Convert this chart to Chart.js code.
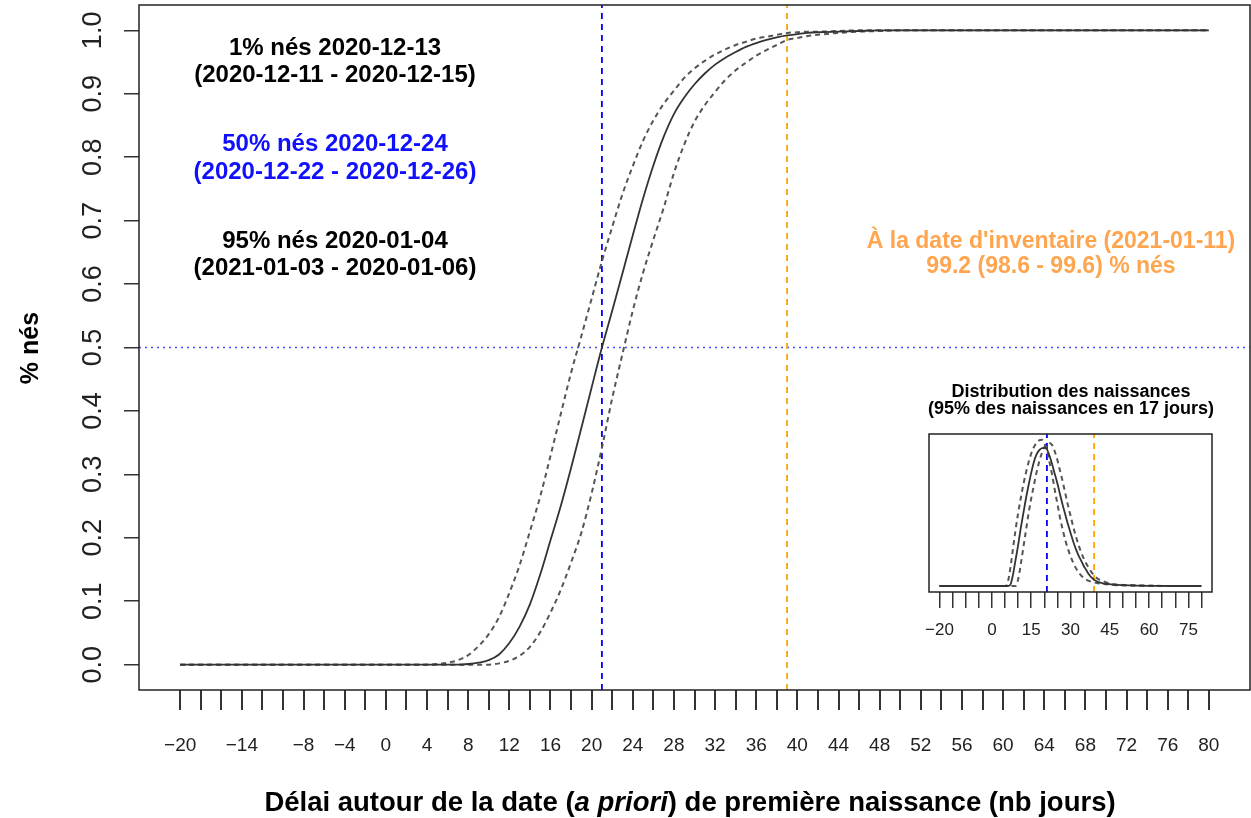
<!DOCTYPE html>
<html>
<head>
<meta charset="utf-8">
<script src="https://cdn.jsdelivr.net/npm/chart.js@4.4.1/dist/chart.umd.min.js"></script>
<style>
  body { margin: 0; background: #fff; }
  #main { position: absolute; left: 0; top: 0; }
  #inset { position: absolute; left: 900px; top: 370px; }
</style>
</head>
<body>
<canvas id="main" width="1251" height="818"></canvas>
<canvas id="inset" width="340" height="280"></canvas>
<script>
// days around the a priori first birth date
const dayGrid = [-20, -10, 0, 4, 5, 6, 7, 8, 9, 10, 11, 12, 13, 14, 15, 16, 17, 18, 19, 20,
  21, 22, 23, 24, 25, 26, 27, 28, 29, 30, 31, 32, 33, 34, 35, 36, 37, 38, 39, 40,
  41, 42, 44, 46, 48, 50, 55, 60, 70, 80];

// cumulative share born (main plot)
const cdfMid = [0, 0, 0, 0, 0, 0, 0, 0.001, 0.003, 0.007, 0.016, 0.034, 0.06, 0.095, 0.142, 0.196, 0.25, 0.31, 0.373, 0.437,
  0.5, 0.558, 0.617, 0.677, 0.735, 0.787, 0.832, 0.868, 0.894, 0.915, 0.932, 0.946, 0.957, 0.966, 0.974, 0.98, 0.985, 0.989, 0.992, 0.994,
  0.996, 0.997, 0.998, 0.999, 1, 1, 1, 1, 1, 1];
const cdfUpper = [0, 0, 0, 0, 0.001, 0.003, 0.007, 0.015, 0.029, 0.048, 0.075, 0.113, 0.157, 0.21, 0.265, 0.329, 0.395, 0.46, 0.518, 0.577,
  0.636, 0.69, 0.742, 0.786, 0.826, 0.858, 0.884, 0.905, 0.925, 0.94, 0.952, 0.962, 0.97, 0.977, 0.982, 0.987, 0.99, 0.993, 0.996, 0.997,
  0.998, 0.998, 0.999, 1, 1, 1, 1, 1, 1, 1];
const cdfLower = [0, 0, 0, 0, 0, 0, 0, 0, 0, 0, 0.002, 0.006, 0.014, 0.028, 0.051, 0.082, 0.118, 0.161, 0.208, 0.27,
  0.342, 0.42, 0.49, 0.558, 0.618, 0.67, 0.72, 0.775, 0.82, 0.856, 0.882, 0.903, 0.922, 0.937, 0.949, 0.96, 0.969, 0.977, 0.985, 0.988,
  0.991, 0.993, 0.996, 0.998, 0.999, 1, 1, 1, 1, 1];

// birth density, % per day (inset)
const densMid = [0, 0, 0, 0, 0, 0, 0.05, 0.5, 1.2, 1.9, 2.7, 3.4, 4.1, 4.72, 5.3, 5.8, 6.15, 6.35, 6.45, 6.47,
  6.4, 6.1, 5.7, 5.25, 4.8, 4.3, 3.8, 3.35, 2.9, 2.5, 2.1, 1.75, 1.45, 1.2, 0.95, 0.75, 0.55, 0.4, 0.3, 0.22,
  0.17, 0.14, 0.1, 0.07, 0.05, 0.04, 0.02, 0.01, 0, 0];
const densUpper = [0, 0, 0, 0, 0, 0.15, 0.8, 1.7, 2.6, 3.4, 4.1, 4.75, 5.3, 5.8, 6.2, 6.5, 6.7, 6.82, 6.85, 6.7,
  6.35, 5.8, 5.2, 4.5, 3.85, 3.2, 2.65, 2.15, 1.75, 1.4, 1.1, 0.85, 0.65, 0.5, 0.38, 0.3, 0.24, 0.2, 0.17, 0.14,
  0.12, 0.1, 0.08, 0.06, 0.04, 0.03, 0.02, 0.01, 0, 0];
const densLower = [0, 0, 0, 0, 0, 0, 0, 0, 0, 0.3, 1.0, 1.8, 2.6, 3.4, 4.1, 4.7, 5.3, 5.8, 6.2, 6.5,
  6.65, 6.7, 6.6, 6.3, 5.9, 5.4, 4.9, 4.35, 3.8, 3.3, 2.8, 2.35, 1.95, 1.6, 1.3, 1.05, 0.85, 0.65, 0.5, 0.38,
  0.3, 0.25, 0.16, 0.1, 0.07, 0.05, 0.03, 0.015, 0, 0];

const day50 = 21;        // 50% born
const inventoryDay = 39; // inventory date
const halfLevel = 0.5;

const xTicks = [];
for (let v = -20; v <= 80; v += 2) xTicks.push(v);
const xLabels = [-20, -14, -8, -4, 0, 4, 8, 12, 16, 20, 24, 28, 32, 36, 40, 44, 48, 52, 56, 60, 64, 68, 72, 76, 80];
const yTicks = [0, 0.1, 0.2, 0.3, 0.4, 0.5, 0.6, 0.7, 0.8, 0.9, 1.0];
const insetTicks = [];
for (let v = -20; v <= 80; v += 5) insetTicks.push(v);
const insetLabels = [-20, 0, 15, 30, 45, 60, 75];

const FONT = "'Liberation Sans', Arial, sans-serif";
const BLUE = "#0000ff";
const ORANGE = "#ffa500";
const fmt = v => (v < 0 ? "\u2212" + Math.abs(v) : String(v));
const pts = (xs, ys) => xs.map((x, i) => ({ x: x, y: ys[i] }));

const curve = (ys, dashed) => ({
  data: pts(dayGrid, ys),
  borderColor: dashed ? "#555" : "#333",
  borderWidth: dashed ? 2 : 1.8,
  borderDash: dashed ? [5, 4] : [],
  pointRadius: 0,
  cubicInterpolationMode: "monotone",
  fill: false
});
const vline = (x, y0, y1, color) => ({
  data: [{ x: x, y: y0 }, { x: x, y: y1 }],
  borderColor: color, borderWidth: 1.8, borderDash: [6, 5], pointRadius: 0, fill: false
});
// keep the plot area exactly where we put it
const noPad = s => { s.paddingTop = 0; s.paddingBottom = 0; s.paddingLeft = 0; s.paddingRight = 0; };

// frame around the plot area
const boxPlugin = {
  id: "box",
  afterDraw(chart) {
    const a = chart.chartArea, c = chart.ctx;
    c.save();
    c.strokeStyle = "#222";
    c.lineWidth = 1.5;
    c.strokeRect(a.left, a.top, a.right - a.left, a.bottom - a.top);
    c.restore();
  }
};

function lines(c, texts, x, y, gap, color, size) {
  c.fillStyle = color;
  c.font = "bold " + size + "px " + FONT;
  c.textAlign = "center";
  c.textBaseline = "alphabetic";
  texts.forEach((t, i) => c.fillText(t, x, y + i * gap));
}

const textPlugin = {
  id: "texts",
  afterDraw(chart) {
    const c = chart.ctx;
    c.save();
    lines(c, ["1% nés 2020-12-13", "(2020-12-11 - 2020-12-15)"], 335, 55, 27, "#000", 24);
    lines(c, ["50% nés 2020-12-24", "(2020-12-22 - 2020-12-26)"], 335, 151, 28, "#1010ff", 24);
    lines(c, ["95% nés 2020-01-04", "(2021-01-03 - 2020-01-06)"], 335, 248, 27, "#000", 24);
    lines(c, ["À la date d'inventaire (2021-01-11)", "99.2 (98.6 - 99.6) % nés"], 1051, 248, 25, "#ffa54f", 23);
    lines(c, ["Distribution des naissances", "(95% des naissances en 17 jours)"], 1071, 397, 17, "#000", 18);

    // y axis title
    c.save();
    c.translate(38, 348);
    c.rotate(-Math.PI / 2);
    lines(c, ["% nés"], 0, 0, 0, "#000", 25);
    c.restore();

    // x axis title with italic part
    const parts = [
      ["bold ", "Délai autour de la date ("],
      ["italic bold ", "a priori"],
      ["bold ", ") de première naissance (nb jours)"]
    ];
    let total = 0;
    parts.forEach(p => { c.font = p[0] + "27.5px " + FONT; total += c.measureText(p[1]).width; });
    let x = 690 - total / 2;
    c.fillStyle = "#000";
    c.textAlign = "left";
    c.textBaseline = "alphabetic";
    parts.forEach(p => {
      c.font = p[0] + "27.5px " + FONT;
      c.fillText(p[1], x, 811);
      x += c.measureText(p[1]).width;
    });
    c.restore();
  }
};

new Chart(document.getElementById("main"), {
  type: "line",
  data: {
    datasets: [
      curve(cdfMid, false),
      curve(cdfUpper, true),
      curve(cdfLower, true),
      vline(day50, -0.04, 1.04, BLUE),
      vline(inventoryDay, -0.04, 1.04, ORANGE),
      {
        data: [{ x: -24, y: halfLevel }, { x: 84, y: halfLevel }],
        borderColor: "#4d4dff", borderWidth: 1.5, borderDash: [2, 4], pointRadius: 0, fill: false
      }
    ]
  },
  options: {
    responsive: false,
    animation: false,
    layout: { padding: { top: 5, right: 1, left: 0, bottom: 0 } },
    plugins: { legend: { display: false }, tooltip: { enabled: false } },
    scales: {
      x: {
        type: "linear", min: -24, max: 84,
        afterBuildTicks: s => { s.ticks = xTicks.map(v => ({ value: v })); },
        afterFit: s => { s.height = 128; noPad(s); },
        grid: { drawOnChartArea: false, tickLength: 20, color: "#333", lineWidth: 2 },
        border: { display: false },
        ticks: {
          autoSkip: false, maxRotation: 0, padding: 24, color: "#222",
          font: { size: 19, family: FONT },
          callback: v => (xLabels.includes(v) ? fmt(v) : "")
        }
      },
      y: {
        min: -0.04, max: 1.04,
        afterBuildTicks: s => { s.ticks = yTicks.map(v => ({ value: v })); },
        afterFit: s => { s.width = 139; noPad(s); },
        grid: { drawOnChartArea: false, tickLength: 15, color: "#333", lineWidth: 1.5 },
        border: { display: false },
        ticks: {
          minRotation: 90, maxRotation: 90, crossAlign: "center", padding: 12, color: "#222",
          font: { size: 27, family: FONT },
          callback: v => v.toFixed(1)
        }
      }
    }
  },
  plugins: [boxPlugin, textPlugin]
});

new Chart(document.getElementById("inset"), {
  type: "line",
  data: {
    datasets: [
      curve(densMid, false),
      curve(densUpper, true),
      curve(densLower, true),
      vline(day50, -0.28, 7.12, BLUE),
      vline(inventoryDay, -0.28, 7.12, ORANGE)
    ]
  },
  options: {
    responsive: false,
    animation: false,
    layout: { padding: { top: 64, right: 28, left: 29, bottom: 0 } },
    plugins: { legend: { display: false }, tooltip: { enabled: false } },
    scales: {
      x: {
        type: "linear", min: -24, max: 84,
        afterBuildTicks: s => { s.ticks = insetTicks.map(v => ({ value: v })); },
        afterFit: s => { s.height = 58; noPad(s); },
        grid: { drawOnChartArea: false, tickLength: 16, color: "#333", lineWidth: 1.5 },
        border: { display: false },
        ticks: {
          autoSkip: false, maxRotation: 0, padding: 12, color: "#222",
          font: { size: 17, family: FONT },
          callback: v => (insetLabels.includes(v) ? fmt(v) : "")
        }
      },
      y: { display: false, min: -0.28, max: 7.12 }
    }
  },
  plugins: [boxPlugin]
});
</script>
</body>
</html>
